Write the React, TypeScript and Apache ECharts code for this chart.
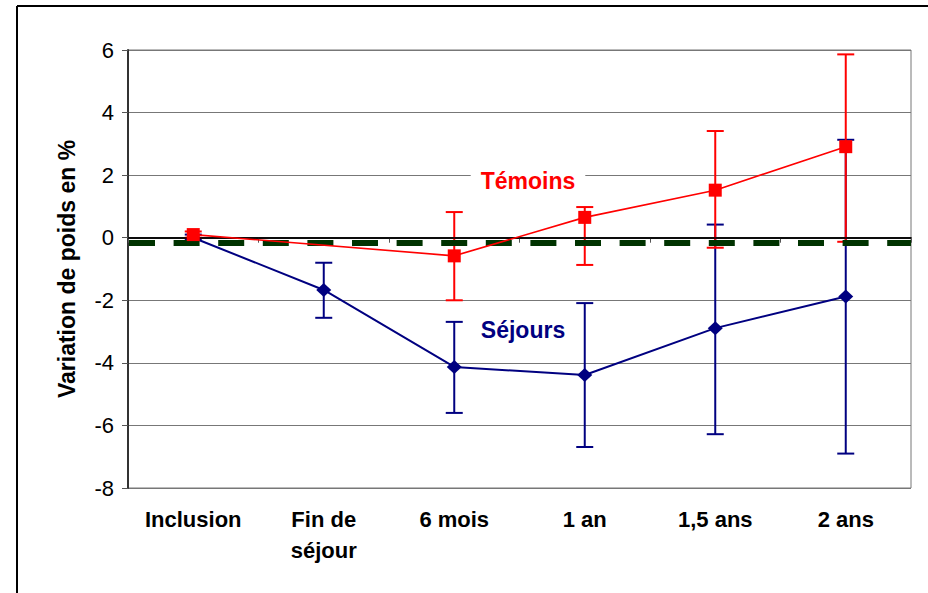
import React, { useEffect, useRef } from "react";
import * as echarts from "echarts";

const categories = ["Inclusion", "Fin de\nséjour", "6 mois", "1 an", "1,5 ans", "2 ans"];
const yTicks = { min: -8, max: 6, interval: 2 };

const temoinsMean: (number | null)[] = [0.1, null, -0.58, 0.65, 1.52, 2.91];
const temoinsLow: (number | null)[] = [0.0, null, -2.0, -0.87, -0.32, -0.13];
const temoinsHigh: (number | null)[] = [0.2, null, 0.82, 0.98, 3.41, 5.86];

const sejoursMean: number[] = [0.0, -1.67, -4.13, -4.39, -2.89, -1.88];
const sejoursLow: number[] = [-0.05, -2.56, -5.6, -6.69, -6.28, -6.9];
const sejoursHigh: number[] = [0.1, -0.8, -2.69, -2.09, 0.42, 3.13];

const referenceLevel = -0.15;

const RED = "#ff0000";
const NAVY = "#000080";

function errorData(low: (number | null)[], high: (number | null)[]) {
  const out: any[] = [];
  low.forEach((l, i) => {
    const h = high[i];
    if (l !== null && h !== null) out.push([i, l, h]);
  });
  return out;
}

function makeRenderItem(color: string, width: number) {
  return (params: any, api: any) => {
    const idx = api.value(0);
    const lo = api.coord([idx, api.value(1)]);
    const hi = api.coord([idx, api.value(2)]);
    const half = 8.5;
    const style = { stroke: color, lineWidth: width };
    return {
      type: "group",
      children: [
        { type: "line", shape: { x1: lo[0], y1: lo[1], x2: hi[0], y2: hi[1] }, style },
        { type: "line", shape: { x1: lo[0] - half, y1: lo[1], x2: lo[0] + half, y2: lo[1] }, style },
        { type: "line", shape: { x1: hi[0] - half, y1: hi[1], x2: hi[0] + half, y2: hi[1] }, style },
      ],
    };
  };
}

export default function App() {
  const ref = useRef<HTMLDivElement>(null);
  useEffect(() => {
    document.body.style.margin = "0";
    const chart = echarts.init(ref.current!, undefined, { renderer: "svg" });
    const font = "Arial, 'Liberation Sans', sans-serif";
    chart.setOption({
      animation: false,
      backgroundColor: "#ffffff",
      textStyle: { fontFamily: font },
      grid: {
        left: 128,
        top: 50,
        right: 17,
        bottom: 105,
        show: true,
        borderColor: "#777",
        borderWidth: 1,
      },
      xAxis: {
        type: "category",
        data: categories,
        boundaryGap: true,
        axisLine: { lineStyle: { color: "#333", width: 2 } },
        axisTick: { show: true, length: 5, lineStyle: { color: "#555" } },
        axisLabel: {
          color: "#000",
          fontWeight: "bold",
          fontSize: 22,
          lineHeight: 31,
          margin: 16,
          interval: 0,
          fontFamily: font,
        },
        splitLine: { show: false },
      },
      yAxis: {
        type: "value",
        min: yTicks.min,
        max: yTicks.max,
        interval: yTicks.interval,
        name: "Variation de poids en %",
        nameLocation: "middle",
        nameGap: 50,
        nameTextStyle: { fontWeight: "bold", fontSize: 23, color: "#000", fontFamily: font },
        axisLine: { show: true, lineStyle: { color: "#333", width: 2 } },
        axisTick: { show: true, length: 6, lineStyle: { color: "#555" } },
        axisLabel: { color: "#000", fontSize: 22, margin: 14, fontFamily: font },
        splitLine: { show: true, lineStyle: { color: "#777", width: 1 } },
      },
      graphic: [
        { type: "line", shape: { x1: 17, y1: 6, x2: 928, y2: 6 }, style: { stroke: "#000", lineWidth: 2 } },
        { type: "line", shape: { x1: 17, y1: 6, x2: 17, y2: 593 }, style: { stroke: "#000", lineWidth: 2 } },
        {
          type: "text",
          x: 528,
          y: 181,
          z: 100,
          style: {
            text: "Témoins",
            fill: RED,
            fontWeight: "bold",
            fontSize: 23,
            fontFamily: font,
            align: "center",
            verticalAlign: "middle",
            backgroundColor: "#fff",
            padding: [2, 10],
          },
        },
        {
          type: "text",
          x: 523,
          y: 330,
          z: 100,
          style: {
            text: "Séjours",
            fill: NAVY,
            fontWeight: "bold",
            fontSize: 23,
            fontFamily: font,
            align: "center",
            verticalAlign: "middle",
            backgroundColor: "#fff",
            padding: [2, 10],
          },
        },
      ],
      series: [
        {
          type: "line",
          data: [],
          silent: true,
          markLine: {
            symbol: "none",
            silent: true,
            label: { show: false },
            data: [
              { yAxis: 0, lineStyle: { color: "#000", width: 1.5, type: "solid" } },
              {
                yAxis: referenceLevel,
                lineStyle: { color: "#003300", width: 6, type: [26, 18.6], dashOffset: -1 },
              },
            ],
          },
          z: 1,
        },
        {
          type: "custom",
          name: "Séjours err",
          renderItem: makeRenderItem(NAVY, 2),
          data: errorData(sejoursLow, sejoursHigh),
          encode: { x: 0, y: [1, 2] },
          z: 2,
        },
        {
          type: "line",
          name: "Séjours",
          data: sejoursMean,
          symbol: "diamond",
          symbolSize: [15, 14],
          lineStyle: { color: NAVY, width: 2 },
          itemStyle: { color: NAVY },
          z: 3,
        },
        {
          type: "custom",
          name: "Témoins err",
          renderItem: makeRenderItem(RED, 2),
          data: errorData(temoinsLow, temoinsHigh),
          encode: { x: 0, y: [1, 2] },
          z: 4,
        },
        {
          type: "line",
          name: "Témoins",
          data: temoinsMean,
          connectNulls: true,
          symbol: "rect",
          symbolSize: 13,
          lineStyle: { color: RED, width: 1.6 },
          itemStyle: { color: RED },
          z: 5,
        },
      ],
    });
    return () => chart.dispose();
  }, []);
  return <div ref={ref} style={{ width: 928, height: 593 }} />;
}
